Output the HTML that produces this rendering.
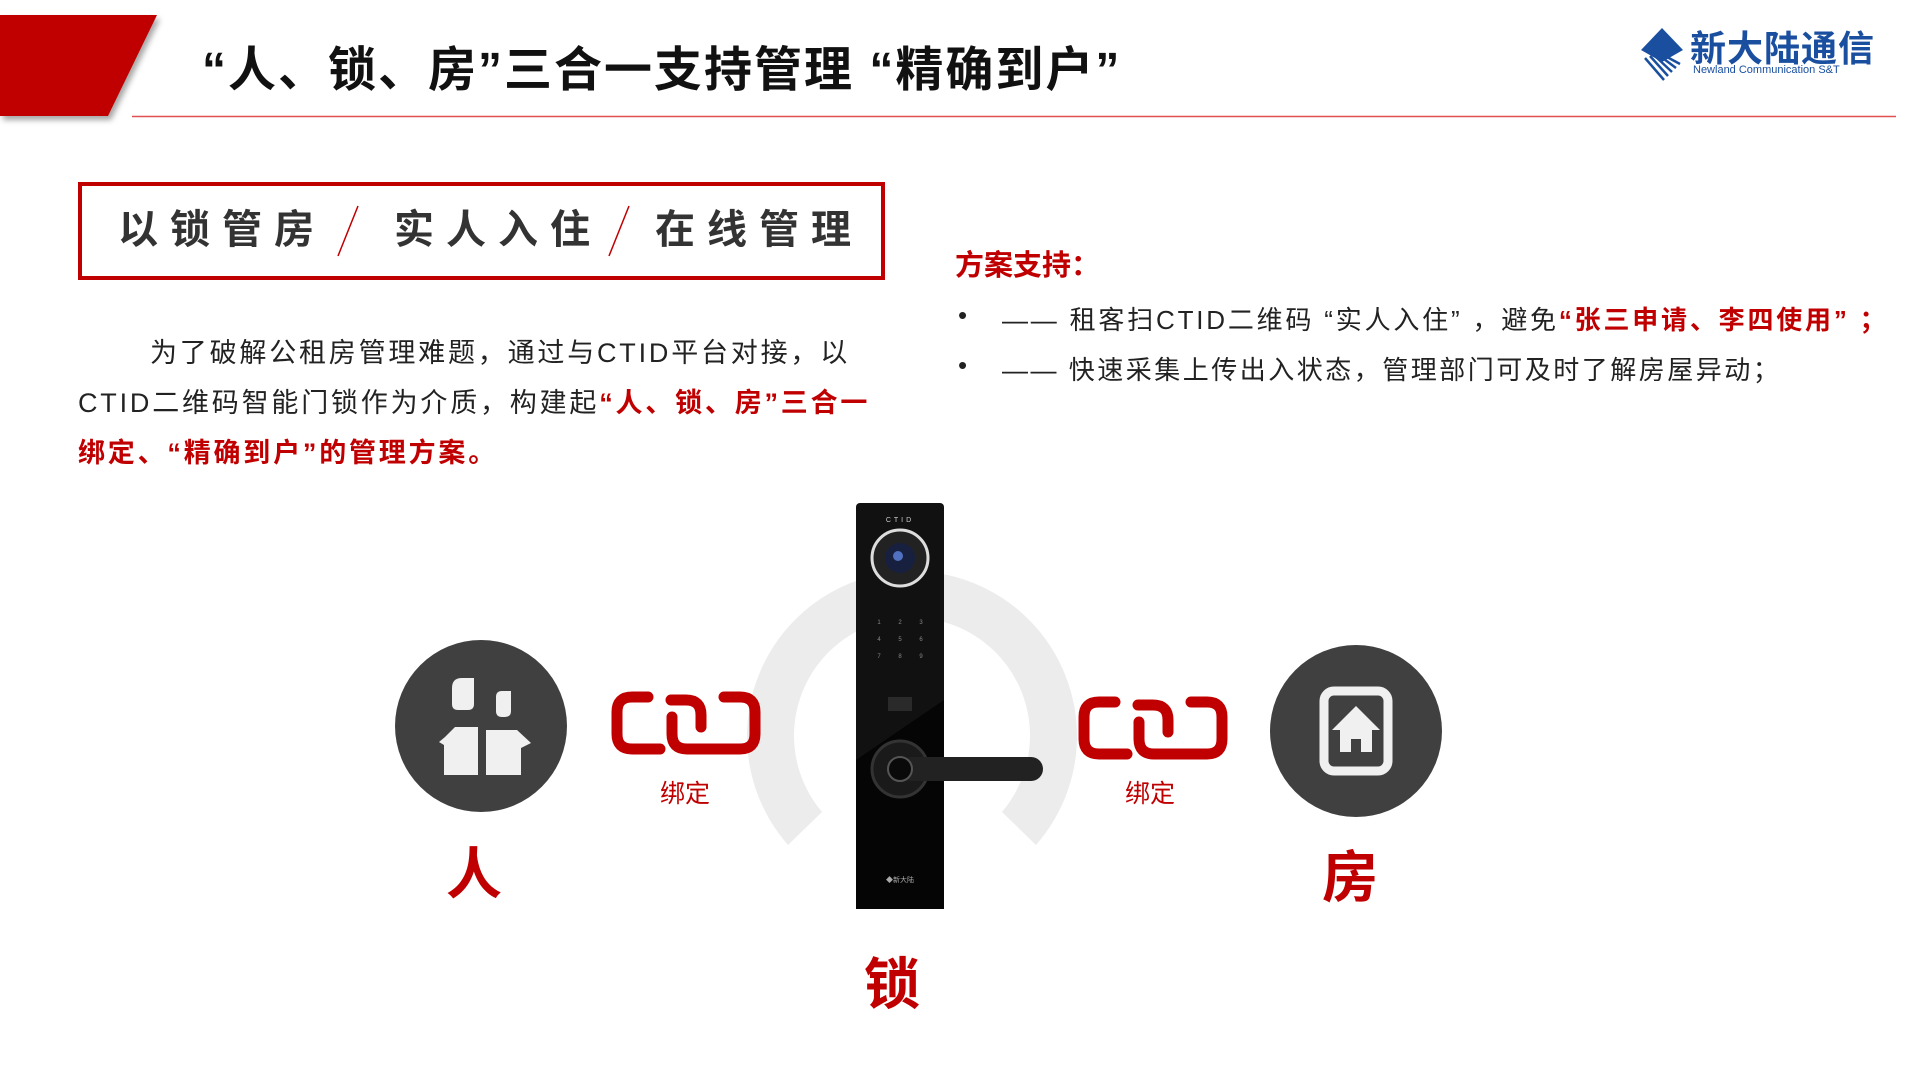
<!DOCTYPE html>
<html><head><meta charset="utf-8"><style>
body{margin:0;width:1920px;height:1080px;overflow:hidden;background:#fff;position:relative;font-family:"Liberation Sans","Noto Sans CJK SC",sans-serif;}
.a{position:absolute;white-space:nowrap;}
.r{color:#c00000;font-weight:bold;}
</style></head><body>
<svg class="a" style="left:0;top:0" width="1920" height="1080">
  <defs><filter id="sh"><feDropShadow dx="3" dy="4" stdDeviation="3" flood-color="#000" flood-opacity="0.35"/></filter></defs>
  <polygon points="0,15 157,15 108,116 0,116" fill="#c00000" filter="url(#sh)"/>
  <line x1="132" y1="116.5" x2="1896" y2="116.5" stroke="#e05050" stroke-width="1.5"/>
  <polygon points="1662,28 1683,50 1662,62 1641,50" fill="#1a4fa0"/>
  <g stroke="#1a4fa0" stroke-width="2.5">
    <line x1="1645" y1="58" x2="1664" y2="80"/><line x1="1650" y1="56" x2="1668" y2="76"/>
    <line x1="1655" y1="56" x2="1672" y2="72"/><line x1="1660" y1="56" x2="1676" y2="68"/>
    <line x1="1667" y1="57" x2="1680" y2="64"/>
  </g>
  <rect x="80" y="184" width="803" height="94" fill="none" stroke="#c00000" stroke-width="4"/>
  <line x1="338" y1="256" x2="358" y2="206" stroke="#c00000" stroke-width="1.5"/>
  <line x1="609" y1="256" x2="629" y2="206" stroke="#c00000" stroke-width="1.5"/>
  <path d="M 788 845 A 165 165 0 1 1 1036 845 L 1002 812 A 118 118 0 1 0 822 812 Z" fill="#ececec"/>
  <circle cx="481" cy="726" r="86" fill="#404040"/>
  <g fill="#f0f0f0">
    <path d="M452 688 q0-10 10-10 h12 v26 q0 6-6 6 h-10 q-6 0-6-6 z"/>
    <path d="M496 697 q0-6 6-6 h9 v20 q0 6-6 6 h-3 q-6 0-6-6 z"/>
    <path d="M445 737 l10-10 h23 v48 h-34 v-30 l-5 -3 z"/>
    <path d="M486 730 h31 l14 13 -10 5 v27 h-35 z"/>
  </g>
  <g fill="none" stroke="#c00000" stroke-width="11" stroke-linecap="round">
    <path d="M648 697 h-16 q-15 0-15 15 v22 q0 15 15 15 h28"/>
    <path d="M672 717 v17 q0 15 15 15 h53 q15 0 15-15 v-22 q0-15-15-15 h-16"/>
    <path d="M701 727 v-12 q0-15-15-15 h-15"/>
    <path d="M1115 702 h-16 q-15 0-15 15 v22 q0 15 15 15 h28"/>
    <path d="M1139 722 v17 q0 15 15 15 h53 q15 0 15-15 v-22 q0-15-15-15 h-16"/>
    <path d="M1168 732 v-12 q0-15-15-15 h-15"/>
  </g>
  <circle cx="1356" cy="731" r="86" fill="#404040"/>
  <rect x="1324" y="691" width="64" height="80" rx="10" fill="none" stroke="#f0f0f0" stroke-width="9"/>
  <path d="M1356 706 l-24 24 h8 v22 h11 v-13 h10 v13 h11 v-22 h8 z" fill="#f0f0f0"/>
  <rect x="856" y="503" width="88" height="406" rx="4" fill="#111"/>
  <polygon points="856,760 944,700 944,909 856,909" fill="#050505"/>
  <text x="900" y="522" fill="#ccc" font-size="7" text-anchor="middle" letter-spacing="3" font-family="Liberation Sans">CTID</text>
  <circle cx="900" cy="558" r="28" fill="#222" stroke="#ddd" stroke-width="3"/>
  <circle cx="900" cy="558" r="15" fill="#182040"/>
  <circle cx="898" cy="556" r="5" fill="#5070c0"/>
  <g fill="#888" font-size="6" text-anchor="middle" font-family="Liberation Sans">
    <text x="879" y="624">1</text><text x="900" y="624">2</text><text x="921" y="624">3</text>
    <text x="879" y="641">4</text><text x="900" y="641">5</text><text x="921" y="641">6</text>
    <text x="879" y="658">7</text><text x="900" y="658">8</text><text x="921" y="658">9</text>
  </g>
  <rect x="888" y="697" width="24" height="14" fill="#2a2a2a"/>
  <circle cx="900" cy="769" r="28" fill="#1a1a1a" stroke="#333" stroke-width="3"/>
  <rect x="900" y="757" width="143" height="24" rx="12" fill="#222"/>
  <circle cx="900" cy="769" r="12" fill="#0a0a0a" stroke="#555" stroke-width="2"/>
  <text x="900" y="882" fill="#aaa" font-size="7" text-anchor="middle">◆新大陆</text>
</svg>

<div class="a" style="left:202px;top:30px;font-size:48px;font-weight:bold;color:#111;letter-spacing:2px;">“人、锁、房”三合一支持管理 “精确到户”</div>
<div class="a" style="left:1690px;top:20px;font-size:36px;font-weight:bold;color:#1a4fa0;letter-spacing:1px;">新大陆通信</div>
<div class="a" style="left:1693px;top:64px;font-size:11px;color:#1a4fa0;">Newland Communication S&amp;T</div>

<div class="a" style="left:118px;top:197px;font-size:40px;font-weight:bold;color:#333;letter-spacing:12px;">以锁管房</div>
<div class="a" style="left:394px;top:197px;font-size:40px;font-weight:bold;color:#333;letter-spacing:12px;">实人入住</div>
<div class="a" style="left:655px;top:197px;font-size:40px;font-weight:bold;color:#333;letter-spacing:12px;">在线管理</div>

<div class="a" style="left:78px;top:328px;font-size:27px;line-height:50px;color:#222;letter-spacing:2.8px;">
<span style="padding-left:72px"></span>为了破解公租房管理难题，通过与CTID平台对接，以<br>CTID二维码智能门锁作为介质，构建起<span class="r">“人、锁、房”三合一</span><br><span class="r">绑定、“精确到户”的管理方案。</span></div>

<div class="a r" style="left:955px;top:242px;font-size:29px;">方案支持：</div>
<div class="a" style="left:958px;top:300px;font-size:26px;color:#222;">•</div>
<div class="a" style="left:1002px;top:300px;font-size:26px;color:#222;letter-spacing:2.8px;">—— 租客扫CTID二维码 “实人入住” ，避免<span class="r">“张三申请、李四使用” ；</span></div>
<div class="a" style="left:958px;top:350px;font-size:26px;color:#222;">•</div>
<div class="a" style="left:1002px;top:350px;font-size:26px;color:#222;letter-spacing:2.5px;">—— 快速采集上传出入状态，管理部门可及时了解房屋异动；</div>

<div class="a" style="left:660px;top:774px;font-size:25px;color:#c00000;">绑定</div>
<div class="a" style="left:1125px;top:774px;font-size:25px;color:#c00000;">绑定</div>
<div class="a r" style="left:446px;top:830px;font-size:56px;">人</div>
<div class="a r" style="left:1322px;top:833px;font-size:56px;">房</div>
<div class="a r" style="left:864px;top:940px;font-size:56px;">锁</div>
</body></html>
